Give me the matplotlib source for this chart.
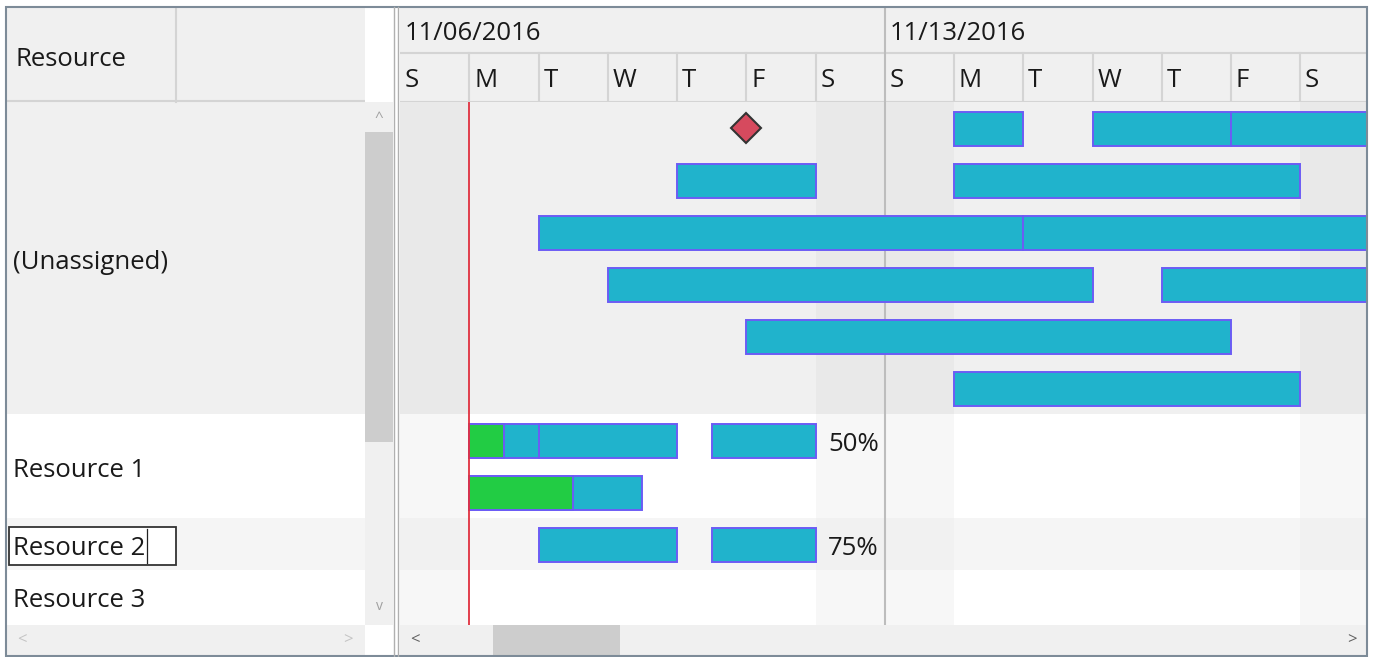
import numpy as np
import matplotlib
matplotlib.use("Agg")
import matplotlib.pyplot as plt
from matplotlib.patches import Rectangle

# =============================================================================
# Dados
# =============================================================================

week_labels = ["11/06/2016", "11/13/2016"]
day_labels = ["S", "M", "T", "W", "T", "F", "S", "S", "M", "T", "W", "T", "F", "S"]
weekend_days = [0, 6, 7, 13]

resources = ["(Unassigned)", "Resource 1", "Resource 2", "Resource 3"]
resource_lanes = [6, 2, 1, 1]

# tarefas: linha (lane), inicio e fim em dias a partir de 11/06, progresso
task_lane = [0, 0, 0, 1, 1, 2, 2, 3, 3, 4, 5, 6, 6, 6, 7, 8, 8]
task_start = [8, 10, 12, 4, 8, 2, 9, 3, 11, 5, 8, 1, 2, 4.5, 1, 2, 4.5]
task_end = [9, 12, 15, 6, 13, 9, 15, 10, 15, 12, 13, 2, 4, 6, 3.5, 4, 6]
task_progress = [0, 0, 0, 0, 0, 0, 0, 0, 0, 0, 0, 0.5, 0, 0, 0.6, 0, 0]

milestone_lane = [0]
milestone_day = [5]

today_day = 1

load_labels = ["50%", "75%"]
load_lane = [6, 8]
load_day = [6, 6]

# =============================================================================
# Layout (pixels)
# =============================================================================

W, H = 1375, 657
fig = plt.figure(figsize=(W / 100, H / 100), dpi=100)
fig.patch.set_facecolor("white")

plt.rcParams["font.family"] = ["Open Sans", "DejaVu Sans"]
FS = 18.5
TXT = "#1a1a1a"

def px_axes(x0, y0, x1, y1, z=1):
    ax = fig.add_axes([x0 / W, 1 - y1 / H, (x1 - x0) / W, (y1 - y0) / H])
    ax.set_axis_off()
    ax.set_zorder(z)
    return ax

LANE_PX = 52
chart_x0, chart_x1 = 400, 1367
body_y0, body_y1 = 102, 625
day_px = 69.25
n_days_view = (chart_x1 - chart_x0) / day_px
n_lanes_view = (body_y1 - body_y0) / LANE_PX
lane_top = np.concatenate([[0], np.cumsum(resource_lanes)])
base_off = 0.22  # baseline do texto abaixo do centro da linha (em lanes)

# -----------------------------------------------------------------------------
# Corpo do gantt
# -----------------------------------------------------------------------------
ax = px_axes(chart_x0, body_y0, chart_x1, body_y1)
ax.set_xlim(0, n_days_view)
ax.set_ylim(n_lanes_view, 0)

row_colors = [("#f0f0f0", "#e9e9e9"), ("#ffffff", "#f7f7f7"),
              ("#f5f5f5", "#f1f1f1"), ("#ffffff", "#f7f7f7")]
for r in range(len(resources)):
    y0, y1 = lane_top[r], lane_top[r + 1]
    if r == len(resources) - 1:
        y1 = n_lanes_view
    weekday_c, weekend_c = row_colors[r]
    for d in range(len(day_labels)):
        c = weekend_c if d in weekend_days else weekday_c
        ax.add_patch(Rectangle((d, y0), 1, y1 - y0, facecolor=c, edgecolor="none", zorder=0))

# separador de semana
ax.axvline(7, color="#bdbdbd", lw=1.5, zorder=1)

# barras
bar_off, bar_h = 0.2, 0.64
starts = np.array(task_start, dtype=float)
ends = np.array(task_end, dtype=float)
lanes = np.array(task_lane, dtype=float)
prog = np.array(task_progress, dtype=float)
ax.barh(lanes + bar_off, ends - starts, left=starts, height=bar_h, align="edge",
        color="#20b3cc", edgecolor="#6c5cf5", linewidth=1.4, zorder=3)
has_prog = prog > 0
ax.barh(lanes[has_prog] + bar_off, (ends - starts)[has_prog] * prog[has_prog],
        left=starts[has_prog], height=bar_h, align="edge",
        color="#22cc44", edgecolor="#6c5cf5", linewidth=1.4, zorder=4)

# marco
ax.plot(milestone_day, np.array(milestone_lane) + 0.5, marker="D", ms=15.5,
        color="#d64a5e", markeredgecolor="#333333", markeredgewidth=1.5,
        linestyle="none", zorder=5)

# linha de hoje
ax.axvline(today_day, color="#e0303f", lw=1.3, zorder=6)

# textos de carga
for lbl, ln, d in zip(load_labels, load_lane, load_day):
    ax.annotate(lbl, (d, ln + 0.5 + base_off), xytext=(9, 0), textcoords="offset points",
                ha="left", va="baseline", fontsize=FS, color=TXT, zorder=6)

# -----------------------------------------------------------------------------
# Cabecalho de datas
# -----------------------------------------------------------------------------
hx = px_axes(chart_x0, 7, chart_x1, body_y0)
hx.set_xlim(0, n_days_view)
hx.set_ylim(95, 0)
hx.add_patch(Rectangle((0, 0), n_days_view, 95, facecolor="#f0f0f0", edgecolor="none", zorder=0))
hx.axhline(46, color="#d4d4d4", lw=1.5)
hx.axhline(94.5, color="#d4d4d4", lw=1.5)
for w, lbl in enumerate(week_labels):
    hx.text(w * 7 + 0.07, 33, lbl, ha="left", va="baseline", fontsize=FS, color=TXT)
    if w > 0:
        hx.plot([w * 7, w * 7], [0, 95], color="#bdbdbd", lw=1.5)
for d, lbl in enumerate(day_labels):
    hx.text(d + 0.07, 80, lbl, ha="left", va="baseline", fontsize=FS, color=TXT)
    if d > 0 and d % 7 != 0:
        hx.plot([d, d], [46, 95], color="#d4d4d4", lw=1.5)

# -----------------------------------------------------------------------------
# Grade de recursos (esquerda)
# -----------------------------------------------------------------------------
gx = px_axes(7, 7, 365, body_y1)
head_units = (body_y0 - 7) / LANE_PX
gx.set_xlim(7, 365)
gx.set_ylim(n_lanes_view, -head_units)
gx.add_patch(Rectangle((7, -head_units), 358, head_units, facecolor="#f0f0f0", edgecolor="none"))
gx.plot([176, 176], [-head_units, 0], color="#d4d4d4", lw=1.5)
gx.axhline(-0.01, color="#d4d4d4", lw=1.5)
gx.text(15, -head_units / 2 + base_off, "Resource", ha="left", va="baseline",
        fontsize=FS, color=TXT)

left_colors = ["#f0f0f0", "#ffffff", "#f5f5f5", "#ffffff"]
for r, name in enumerate(resources):
    y0, y1 = lane_top[r], lane_top[r + 1]
    gx.add_patch(Rectangle((7, y0), 358, y1 - y0, facecolor=left_colors[r], edgecolor="none"))
    gx.text(13, (y0 + y1) / 2 + base_off, name, ha="left", va="baseline", fontsize=FS,
            color=TXT, zorder=5)

# caixa de edicao em "Resource 2"
r2 = resources.index("Resource 2")
gx.add_patch(Rectangle((9, lane_top[r2] + 0.17), 167, 0.73, facecolor="white",
                       edgecolor="#333333", lw=1.3, zorder=4))
gx.plot([147, 147], [lane_top[r2] + 0.21, lane_top[r2] + 0.86], color="#222222", lw=0.9, zorder=6)

# -----------------------------------------------------------------------------
# Barras de rolagem
# -----------------------------------------------------------------------------
vs = px_axes(365, 102, 393, body_y1, z=3)
vs.set_xlim(0, 1)
vs.set_ylim(1, 0)
vs.add_patch(Rectangle((0, 0), 1, 1, facecolor="#f0f0f0", edgecolor="none"))
vs.add_patch(Rectangle((0, 30 / 523), 1, 310 / 523, facecolor="#cdcdcd", edgecolor="none"))
vs.text(0.5, 16 / 523, "^", ha="center", va="center", fontsize=11, color="#a0a0a0")
vs.text(0.5, 505 / 523, "v", ha="center", va="center", fontsize=10, color="#a0a0a0")

hs_left = px_axes(7, 625, 365, 655, z=3)
hs_left.set_xlim(0, 1)
hs_left.set_ylim(1, 0)
hs_left.add_patch(Rectangle((0, 0), 1, 1, facecolor="#f0f0f0", edgecolor="none"))
hs_left.text(15 / 358, 0.5, "<", ha="center", va="center", fontsize=12, color="#c4c4c4")
hs_left.text(341 / 358, 0.5, ">", ha="center", va="center", fontsize=12, color="#c4c4c4")

hs = px_axes(chart_x0, 625, chart_x1, 655, z=3)
hs.set_xlim(0, 1)
hs.set_ylim(1, 0)
hs.add_patch(Rectangle((0, 0), 1, 1, facecolor="#f0f0f0", edgecolor="none"))
hs.add_patch(Rectangle((93 / 967, 0), 127 / 967, 1, facecolor="#cdcdcd", edgecolor="none"))
hs.text(15 / 967, 0.5, "<", ha="center", va="center", fontsize=12, color="#606060")
hs.text(952 / 967, 0.5, ">", ha="center", va="center", fontsize=12, color="#606060")

# -----------------------------------------------------------------------------
# Bordas e divisor
# -----------------------------------------------------------------------------
fr = px_axes(0, 0, W, H, z=10)
fr.set_xlim(0, W)
fr.set_ylim(H, 0)
fr.add_patch(Rectangle((6.5, 6.5), 1361, 649, facecolor="none", edgecolor="#7d8b98", lw=1.5))
fr.plot([394.5, 394.5], [7, 656], color="#b0b0b0", lw=1.0)
fr.plot([398.5, 398.5], [7, 656], color="#b0b0b0", lw=1.0)

fig.savefig("out.png", dpi=100)
